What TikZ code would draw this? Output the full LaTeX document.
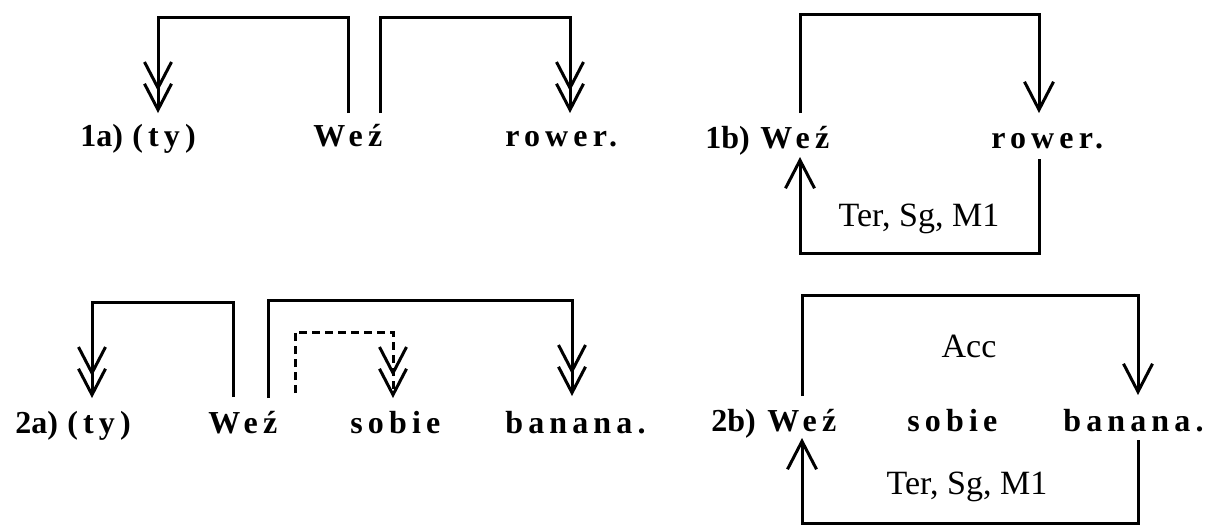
\documentclass[tikz,border=0pt]{standalone}
\usepackage{fontspec}
\setmainfont{Liberation Serif}
\newfontfamily\wordfont[LetterSpace=16]{Liberation Serif}
\usetikzlibrary{arrows.meta}
\tikzset{
  word/.style={anchor=base west,inner sep=0pt,font=\wordfont\fontsize{16}{19}\selectfont\bfseries},
  numlabel/.style={anchor=base west,inner sep=0pt,font=\fontsize{16}{19}\selectfont\bfseries},
  feat/.style={anchor=base,inner sep=0pt,font=\fontsize{17}{20}\selectfont},
  link/.style={line width=1.5pt},
  dbl/.style={link,-{Straight Barb[length=13pt,width=13.5pt,sep=-4.5pt]Straight Barb[length=13pt,width=13.5pt]}},
  sgl/.style={link,-{Straight Barb[length=14pt,width=14.5pt]}},
  dashlink/.style={dbl,dash pattern=on 4pt off 2.5pt}
}
\begin{document}
\begin{tikzpicture}[x=0.5pt,y=-0.5pt]
\useasboundingbox (0,0) rectangle (1216,527);
% ---- 1a
\node[numlabel] (n1a) at (80,146) {1a)};
\node[word] (ty1) at (132,146) {(ty)};
\node[word] (wez1a) at (313,146) {Weź};
\node[word] (row1a) at (505,146) {rower.};
\coordinate (a1s) at (348,113);
\coordinate (a1e) at (158,113);
\coordinate (a2s) at (380,113);
\coordinate (a2e) at (570,113);
\draw[dbl] (a1s) -- (348,17) -- (158,17) -- (a1e);
\draw[dbl] (a2s) -- (380,17) -- (570,17) -- (a2e);
% ---- 1b
\node[numlabel] (n1b) at (705,148) {1b)};
\node[word] (wez1b) at (760,148) {Weź};
\node[word] (row1b) at (991,148) {rower.};
\node[feat] (f1b) at (919,226) {Ter, Sg, M1};
\coordinate (b1s) at (800,113);
\coordinate (b1e) at (1039,113);
\coordinate (b2s) at (1039,159);
\coordinate (b2e) at (800,157);
\draw[sgl] (b1s) -- (800,14) -- (1039,14) -- (b1e);
\draw[sgl] (b2s) -- (1039,253) -- (800,253) -- (b2e);
% ---- 2a
\node[numlabel] (n2a) at (15,433) {2a)};
\node[word] (ty2) at (67,433) {(ty)};
\node[word] (wez2a) at (208,433) {Weź};
\node[word] (sob2a) at (350,433) {sobie};
\node[word] (ban2a) at (505,433) {banana.};
\coordinate (c1s) at (233,397);
\coordinate (c1e) at (92,398);
\coordinate (c2s) at (268,398);
\coordinate (c2e) at (572,396);
\coordinate (c3s) at (295,393);
\coordinate (c3e) at (393,398);
\draw[dbl] (c1s) -- (233,302) -- (92,302) -- (c1e);
\draw[dbl] (c2s) -- (268,300) -- (572,300) -- (c2e);
\draw[dashlink] (c3s) -- (295,332) -- (393,332) -- (c3e);
% ---- 2b
\node[numlabel] (n2b) at (711,431) {2b)};
\node[word] (wez2b) at (767,431) {Weź};
\node[word] (sob2b) at (907,431) {sobie};
\node[word] (ban2b) at (1063,431) {banana.};
\node[feat] (acc) at (969,357) {Acc};
\node[feat] (f2b) at (967,494) {Ter, Sg, M1};
\coordinate (d1s) at (802,396);
\coordinate (d1e) at (1138,395);
\coordinate (d2s) at (1138,440);
\coordinate (d2e) at (802,438);
\draw[sgl] (d1s) -- (802,295) -- (1138,295) -- (d1e);
\draw[sgl] (d2s) -- (1138,523) -- (802,523) -- (d2e);
\end{tikzpicture}
\end{document}
